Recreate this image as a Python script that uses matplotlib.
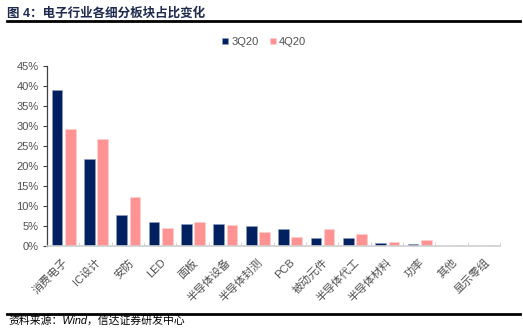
import matplotlib
matplotlib.use("Agg")
import matplotlib.pyplot as plt
import numpy as np

plt.rcParams['font.family'] = ['Liberation Sans', 'Noto Sans CJK SC', 'DejaVu Sans']

categories = ['消费电子', 'IC设计', '安防', 'LED', '面板', '半导体设备', '半导体封测',
              'PCB', '被动元件', '半导体代工', '半导体材料', '功率', '其他', '显示零组']
q3_2020 = [39.0, 21.7, 7.7, 6.0, 5.6, 5.5, 5.0, 4.2, 2.1, 2.0, 0.8, 0.4, 0.05, 0.05]
q4_2020 = [29.3, 26.8, 12.3, 4.6, 5.9, 5.2, 3.5, 2.3, 4.3, 3.0, 1.0, 1.5, 0.3, 0.15]
series_names = ['3Q20', '4Q20']
yticks = [0, 5, 10, 15, 20, 25, 30, 35, 40, 45]

W, H = 523, 331
fig = plt.figure(figsize=(W / 100, H / 100), dpi=100)

# axes box in pixel coordinates
left, right, top, bottom = 47, 500, 66, 246
ax = fig.add_axes([left / W, 1 - bottom / H, (right - left) / W, (bottom - top) / H])

navy = '#002060'
pink = '#FF9393'
x = np.arange(len(categories))
bw = 0.33
ax.bar(x - 0.19, q3_2020, bw, color=navy, edgecolor='#8FA0C0', linewidth=0.4, label=series_names[0])
ax.bar(x + 0.22, q4_2020, bw, color=pink, edgecolor='#FFD0D0', linewidth=0.4, label=series_names[1])

ax.set_xlim(-0.5, len(categories) - 0.5)
ax.set_ylim(0, 45)
ax.set_yticks(yticks)
ax.set_yticklabels([f'{v}%' for v in yticks], fontsize=8, color='#505050')

ax.set_xticks(x)
ax.set_xticklabels(categories, rotation=45, ha='right', rotation_mode='anchor',
                   fontsize=8, color='#505050')
ax.tick_params(axis='x', length=0, pad=8)
ax.set_xticks(np.arange(-0.5, len(categories)), minor=True)
ax.tick_params(axis='x', which='minor', length=3, color='#D0D0D0', direction='in')
ax.tick_params(axis='y', length=3, color='#404040', width=0.8, pad=3)

for s in ['top', 'right']:
    ax.spines[s].set_visible(False)
ax.spines['left'].set_color('#404040')
ax.spines['left'].set_linewidth(0.9)
ax.spines['bottom'].set_color('#D0D0D0')
ax.spines['bottom'].set_linewidth(1.2)

leg = fig.legend(loc='center', bbox_to_anchor=(264 / W, 1 - 42 / H), ncol=2, frameon=False,
                 fontsize=8, handlelength=0.55, handleheight=0.55, handletextpad=0.25,
                 columnspacing=1.0)
for t in leg.get_texts():
    t.set_color('#505050')

# header and footer
fig.text(7 / W, 1 - 13 / H, '图 4：电子行业各细分板块占比变化', fontsize=9, fontweight='bold',
         color='#1F2A4F', ha='left', va='center')
fig.add_artist(plt.Line2D([7 / W, 520 / W], [1 - 21.3 / H, 1 - 21.3 / H], color='black', linewidth=2))
fig.add_artist(plt.Line2D([7 / W, 520 / W], [1 - 313.5 / H, 1 - 313.5 / H], color='black', linewidth=2))
fig.text(8 / W, 1 - 321 / H, '资料来源：Wind，信达证券研发中心', fontsize=7.8, style='italic',
         color='black', ha='left', va='center')

fig.savefig('out.png', dpi=100)
